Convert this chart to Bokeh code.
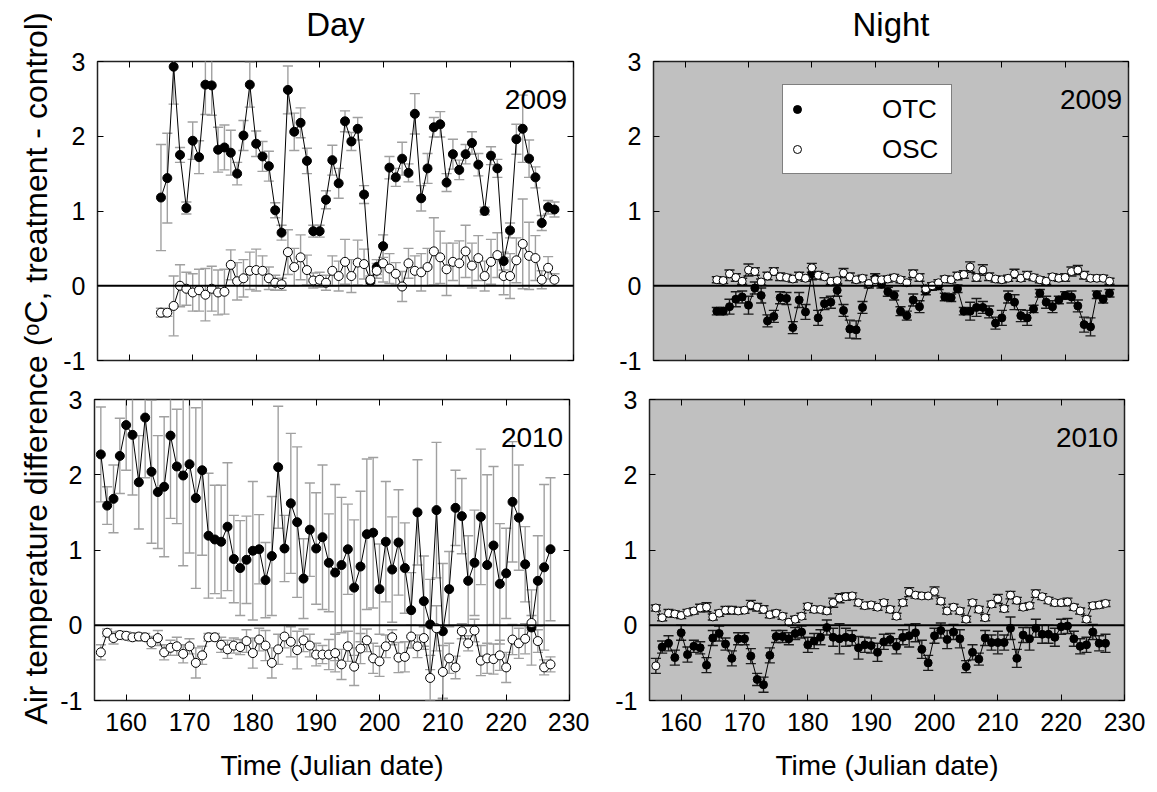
import math
from bokeh.plotting import figure
from bokeh.models import Range1d, FixedTicker, LinearAxis, Label, Legend, LegendItem, Span
from bokeh.layouts import row, column
from bokeh.embed import file_html
from bokeh.resources import INLINE

# ---------------- data ----------------
days_2009 = list(range(165, 228))
days_2010 = list(range(156, 228))

day09_otc = [1.18, 1.44, 2.93, 1.75, 1.04, 1.94, 1.72, 2.69, 2.68, 1.82,
             1.85, 1.78, 1.50, 2.01, 2.69, 1.90, 1.73, 1.60, 1.01, 0.71,
             2.62, 2.06, 2.18, 1.67, 0.73, 0.73, 1.15, 1.68, 1.37, 2.20,
             1.93, 2.10, 1.22, 0.06, 0.25, 0.53, 1.58, 1.45, 1.70, 1.51,
             2.30, 1.17, 1.57, 2.12, 2.16, 1.38, 1.76, 1.55, 1.76, 1.91,
             1.62, 1.00, 1.74, 1.57, 0.33, 0.74, 1.96, 2.10, 1.70, 1.45,
             0.84, 1.05, 1.02]
day09_otc_err = [0.71, 0.60, 0.50, 0.10, 0.08, 0.25, 0.22, 0.40, 0.40, 0.30,
                 0.30, 0.30, 0.15, 0.20, 0.30, 0.17, 0.20, 0.20, 0.10, 0.10,
                 0.32, 0.25, 0.20, 0.17, 0.08, 0.08, 0.12, 0.20, 0.20, 0.14,
                 0.12, 0.15, 0.12, 0.05, 0.10, 0.15, 0.15, 0.12, 0.22, 0.12,
                 0.27, 0.17, 0.20, 0.13, 0.17, 0.12, 0.20, 0.13, 0.13, 0.15,
                 0.15, 0.05, 0.12, 0.12, 0.12, 0.10, 0.20, 0.45, 0.25, 0.14,
                 0.10, 0.09, 0.10]
day09_osc = [-0.36, -0.36, -0.27, 0.00, -0.04, -0.09, -0.06, -0.12, -0.04, -0.09,
             -0.08, 0.28, 0.06, 0.10, 0.20, 0.21, 0.20, 0.10, 0.04, 0.02,
             0.45, 0.25, 0.38, 0.21, 0.07, 0.08, 0.04, 0.20, 0.13, 0.32,
             0.13, 0.31, 0.29, 0.08, 0.20, 0.30, 0.23, 0.16, -0.01, 0.30,
             0.20, 0.18, 0.25, 0.46, 0.38, 0.22, 0.32, 0.30, 0.46, 0.27,
             0.37, 0.13, 0.32, 0.41, 0.13, 0.13, 0.34, 0.56, 0.40, 0.37,
             0.08, 0.24, 0.08]
day09_osc_err = [0.06, 0.05, 0.40, 0.28, 0.22, 0.25, 0.28, 0.35, 0.30, 0.30,
                 0.30, 0.20, 0.25, 0.25, 0.25, 0.28, 0.20, 0.15, 0.10, 0.08,
                 0.30, 0.25, 0.30, 0.20, 0.10, 0.10, 0.10, 0.20, 0.20, 0.30,
                 0.22, 0.30, 0.20, 0.05, 0.10, 0.25, 0.20, 0.15, 0.20, 0.20,
                 0.20, 0.25, 0.25, 0.45, 0.35, 0.35, 0.25, 0.30, 0.35, 0.30,
                 0.30, 0.20, 0.30, 0.30, 0.25, 0.30, 0.30, 0.60, 0.45, 0.30,
                 0.12, 0.15, 0.08]

day10_otc = [2.27, 1.59, 1.68, 2.25, 2.66, 2.53, 1.90, 2.76, 2.04, 1.77,
             1.84, 2.52, 2.11, 1.99, 2.14, 1.69, 2.06, 1.19, 1.14, 1.11,
             1.31, 0.88, 0.76, 0.87, 0.99, 1.01, 0.60, 0.92, 2.10, 1.02,
             1.62, 1.37, 0.62, 1.27, 1.02, 1.17, 0.83, 0.70, 0.80, 1.01,
             0.50, 0.78, 1.21, 1.23, 0.48, 1.11, 0.74, 1.10, 0.76, 0.20,
             1.50, 0.32, 0.01, 1.53, -0.08, 0.48, 1.56, 1.45, 0.59, 0.83,
             1.44, 0.80, 1.06, 0.55, 0.69, 1.64, 1.43, 0.81, -0.03, 0.59,
             0.77, 1.01]
day10_otc_err = [0.63, 0.25, 0.45, 0.50, 0.60, 0.80, 0.62, 0.80, 0.95, 0.75,
                 0.93, 1.10, 0.76, 1.20, 1.18, 1.20, 1.13, 0.83, 0.72, 0.75,
                 0.85, 0.58, 0.63, 0.58, 0.92, 0.46, 0.50, 0.79, 0.81, 0.44,
                 0.93, 1.00, 0.53, 0.62, 0.74, 0.96, 0.65, 1.17, 0.90, 0.60,
                 0.90, 1.00, 1.00, 1.00, 0.60, 0.80, 0.70, 0.70, 0.60, 0.50,
                 0.70, 0.60, 0.60, 0.90, 0.90, 0.50, 0.50, 0.50, 0.60, 0.70,
                 0.90, 1.20, 1.05, 0.80, 0.60, 0.80, 0.70, 0.50, 0.50, 0.60,
                 1.10, 0.95]
day10_osc = [-0.36, -0.10, -0.17, -0.13, -0.14, -0.16, -0.15, -0.16, -0.23, -0.17,
             -0.36, -0.30, -0.28, -0.38, -0.28, -0.50, -0.40, -0.16, -0.16, -0.26,
             -0.32, -0.27, -0.29, -0.21, -0.37, -0.19, -0.27, -0.50, -0.32, -0.15,
             -0.22, -0.33, -0.20, -0.27, -0.39, -0.39, -0.39, -0.37, -0.52, -0.28,
             -0.55, -0.31, -0.20, -0.44, -0.48, -0.28, -0.16, -0.43, -0.42, -0.15,
             -0.28, -0.17, -0.70, -0.04, -0.62, -0.44, -0.56, -0.08, -0.24, -0.07,
             -0.47, -0.44, -0.45, -0.40, -0.56, -0.19, -0.24, -0.18, 0.03, -0.21,
             -0.56, -0.52]
day10_osc_err = [0.10, 0.05, 0.08, 0.05, 0.05, 0.05, 0.05, 0.05, 0.08, 0.10,
                 0.10, 0.10, 0.12, 0.12, 0.10, 0.20, 0.12, 0.05, 0.05, 0.10,
                 0.12, 0.10, 0.10, 0.15, 0.20, 0.15, 0.20, 0.20, 0.20, 0.15,
                 0.20, 0.25, 0.15, 0.15, 0.15, 0.12, 0.20, 0.25, 0.20, 0.20,
                 0.25, 0.20, 0.15, 0.20, 0.20, 0.15, 0.10, 0.20, 0.20, 0.15,
                 0.15, 0.15, 0.30, 0.30, 0.35, 0.20, 0.15, 0.10, 0.10, 0.15,
                 0.20, 0.20, 0.20, 0.20, 0.20, 0.20, 0.20, 0.20, 0.10, 0.15,
                 0.10, 0.10]

night09_otc = [-0.34, -0.34, -0.28, -0.18, -0.15, -0.26, -0.03, -0.13, -0.47, -0.41,
               -0.16, -0.17, -0.56, -0.19, -0.35, 0.16, -0.43, -0.24, -0.22, -0.06,
               -0.33, -0.58, -0.59, -0.29, 0.02, 0.10, 0.02, -0.08, -0.13, -0.34,
               -0.40, -0.19, -0.28, -0.07, -0.01, 0.00, -0.15, -0.16, -0.04, -0.34,
               -0.34, -0.29, -0.29, -0.35, -0.50, -0.43, -0.15, -0.22, -0.40, -0.43,
               -0.31, -0.10, -0.22, -0.28, -0.19, -0.13, -0.15, -0.27, -0.52, -0.55,
               -0.12, -0.18, -0.10]
night09_otc_err = [0.05, 0.05, 0.10, 0.10, 0.08, 0.12, 0.08, 0.10, 0.08, 0.08,
                   0.08, 0.08, 0.08, 0.10, 0.10, 0.08, 0.10, 0.08, 0.08, 0.08,
                   0.08, 0.12, 0.12, 0.08, 0.05, 0.06, 0.05, 0.06, 0.06, 0.06,
                   0.06, 0.08, 0.08, 0.05, 0.05, 0.05, 0.05, 0.05, 0.05, 0.05,
                   0.12, 0.12, 0.08, 0.08, 0.08, 0.10, 0.08, 0.10, 0.08, 0.10,
                   0.05, 0.05, 0.08, 0.08, 0.05, 0.05, 0.08, 0.08, 0.10, 0.12,
                   0.05, 0.05, 0.05]
night09_osc = [0.08, 0.07, 0.16, 0.11, 0.06, 0.21, 0.19, 0.05, 0.13, 0.19,
               0.12, 0.11, 0.09, 0.13, 0.10, 0.24, 0.14, 0.12, 0.06, 0.07,
               0.17, 0.12, 0.08, 0.10, 0.03, 0.08, 0.08, 0.09, 0.11, 0.08,
               0.04, 0.16, 0.11, -0.04, 0.00, 0.04, 0.09, 0.08, 0.13, 0.15,
               0.25, 0.11, 0.21, 0.12, 0.09, 0.08, 0.10, 0.16, 0.10, 0.14,
               0.11, 0.08, 0.06, 0.12, 0.10, 0.11, 0.19, 0.21, 0.14, 0.10,
               0.10, 0.10, 0.06]
night09_osc_err = [0.04, 0.04, 0.05, 0.05, 0.04, 0.08, 0.05, 0.04, 0.05, 0.05,
                   0.05, 0.04, 0.04, 0.05, 0.04, 0.06, 0.05, 0.04, 0.04, 0.04,
                   0.06, 0.05, 0.04, 0.04, 0.04, 0.04, 0.04, 0.04, 0.04, 0.04,
                   0.04, 0.05, 0.05, 0.04, 0.04, 0.04, 0.04, 0.04, 0.05, 0.05,
                   0.07, 0.05, 0.07, 0.05, 0.04, 0.04, 0.04, 0.06, 0.04, 0.05,
                   0.04, 0.04, 0.04, 0.04, 0.04, 0.05, 0.06, 0.06, 0.05, 0.04,
                   0.04, 0.04, 0.04]

night10_otc = [-0.54, -0.29, -0.24, -0.43, -0.10, -0.39, -0.28, -0.30, -0.53, -0.17,
               -0.11, -0.25, -0.44, -0.18, -0.18, -0.41, -0.72, -0.79, -0.40, -0.15,
               -0.15, -0.18, -0.11, -0.09, -0.26, -0.21, -0.16, -0.03, -0.16, -0.18,
               -0.16, -0.17, -0.30, -0.26, -0.27, -0.36, -0.22, -0.19, -0.28, -0.16,
               -0.14, -0.10, -0.32, -0.50, -0.14, -0.07, -0.19, -0.09, -0.18, -0.55,
               -0.36, -0.45, -0.17, -0.23, -0.23, -0.23, -0.04, -0.44, -0.13, -0.18,
               -0.04, -0.12, -0.12, -0.16, -0.02, -0.01, -0.18, -0.28, -0.26, -0.09,
               -0.24, -0.24]
night10_otc_err = [0.10, 0.08, 0.10, 0.10, 0.10, 0.10, 0.08, 0.08, 0.10, 0.10,
                   0.10, 0.08, 0.10, 0.08, 0.08, 0.10, 0.08, 0.10, 0.10, 0.08,
                   0.08, 0.08, 0.08, 0.08, 0.10, 0.10, 0.10, 0.10, 0.12, 0.20,
                   0.12, 0.10, 0.15, 0.10, 0.10, 0.12, 0.10, 0.08, 0.10, 0.10,
                   0.15, 0.12, 0.12, 0.10, 0.10, 0.10, 0.12, 0.10, 0.12, 0.08,
                   0.10, 0.08, 0.10, 0.10, 0.15, 0.10, 0.15, 0.12, 0.10, 0.15,
                   0.12, 0.12, 0.12, 0.12, 0.10, 0.10, 0.10, 0.10, 0.10, 0.10,
                   0.10, 0.12]
night10_osc = [0.23, 0.10, 0.16, 0.15, 0.13, 0.17, 0.19, 0.23, 0.24, 0.11,
               0.16, 0.20, 0.20, 0.19, 0.20, 0.27, 0.24, 0.21, 0.14, 0.16,
               0.12, 0.04, 0.08, 0.12, 0.25, 0.21, 0.21, 0.19, 0.30, 0.36,
               0.38, 0.39, 0.30, 0.26, 0.27, 0.24, 0.30, 0.21, 0.12, 0.30,
               0.44, 0.40, 0.39, 0.39, 0.45, 0.32, 0.19, 0.24, 0.19, 0.08,
               0.30, 0.21, 0.10, 0.28, 0.35, 0.22, 0.40, 0.33, 0.24, 0.26,
               0.42, 0.38, 0.33, 0.30, 0.30, 0.31, 0.24, 0.19, 0.08, 0.26,
               0.27, 0.29]
night10_osc_err = [0.04, 0.04, 0.05, 0.04, 0.04, 0.04, 0.04, 0.05, 0.06, 0.04,
                   0.04, 0.05, 0.05, 0.04, 0.04, 0.06, 0.05, 0.05, 0.04, 0.04,
                   0.04, 0.04, 0.04, 0.04, 0.04, 0.04, 0.04, 0.04, 0.06, 0.06,
                   0.05, 0.04, 0.04, 0.04, 0.04, 0.04, 0.04, 0.04, 0.04, 0.04,
                   0.06, 0.04, 0.04, 0.04, 0.06, 0.04, 0.04, 0.04, 0.04, 0.04,
                   0.04, 0.04, 0.04, 0.04, 0.06, 0.04, 0.05, 0.04, 0.04, 0.04,
                   0.05, 0.04, 0.04, 0.04, 0.04, 0.05, 0.04, 0.04, 0.04, 0.04,
                   0.04, 0.04]

x_ticks = [160, 170, 180, 190, 200, 210, 220, 230]
y_ticks = [-1, 0, 1, 2, 3]
y_tick_labels = {-1: "-1"}
FONT = "Liberation Sans"
Y_LABEL = "Air temperature difference (\u1d52C, treatment - control)"


def tick_only_axis(ticks):
    return LinearAxis(ticker=FixedTicker(ticks=ticks), axis_line_color=None,
                      major_tick_in=6, major_tick_out=0, minor_tick_line_color=None,
                      major_label_text_font_size="0px", major_label_text_color=None,
                      major_label_standoff=0)


def make_panel(days, otc, otc_err, osc, osc_err, *, width, height, bl, br, bt, bb,
               title=None, night=False, year="", xlabels=False, legend=False,
               open_first_otc=False):
    p = figure(width=width, height=height, output_backend="svg", toolbar_location=None,
               x_range=Range1d(155, 230), y_range=Range1d(-1, 3), title=None,
               min_border_left=bl, min_border_right=br, min_border_top=bt,
               min_border_bottom=bb)
    p.background_fill_color = "#c0c0c0" if night else "white"
    p.border_fill_color = "white"
    p.outline_line_color = "#222222"
    p.outline_line_width = 1.5
    p.grid.visible = False

    for ax, ticks in [(p.xaxis[0], x_ticks), (p.yaxis[0], y_ticks)]:
        ax.ticker = FixedTicker(ticks=ticks)
        ax.axis_line_color = None
        ax.major_tick_in = 6
        ax.major_tick_out = 0
        ax.major_tick_line_color = "black"
        ax.minor_tick_line_color = None
        ax.major_label_text_font = FONT
        ax.major_label_text_font_size = "25px"
        ax.major_label_text_color = "black"
        ax.major_label_standoff = 12
    p.yaxis[0].major_label_overrides = y_tick_labels
    if not xlabels:
        p.xaxis.major_label_text_font_size = "0px"
        p.xaxis.major_label_text_color = None
        p.xaxis.major_label_standoff = 0
    else:
        p.xaxis.axis_label = "Time (Julian date)"
        p.xaxis.axis_label_text_font = FONT
        p.xaxis.axis_label_text_font_size = "28px"
        p.xaxis.axis_label_text_font_style = "normal"
        p.xaxis.axis_label_text_color = "black"
        p.xaxis.axis_label_standoff = 16

    top_ax = tick_only_axis(x_ticks)
    if title:
        # column title ("Day" / "Night") carried by the top axis
        top_ax.axis_label = title
        top_ax.axis_label_text_font = FONT
        top_ax.axis_label_text_font_size = "33px"
        top_ax.axis_label_text_font_style = "normal"
        top_ax.axis_label_text_color = "black"
        top_ax.axis_label_standoff = 19
    p.add_layout(top_ax, "above")
    p.add_layout(tick_only_axis(y_ticks), "right")

    p.add_layout(Span(location=0, dimension="width", line_color="black", line_width=2))

    bar_color = "#1a1a1a" if night else "#a0a0a0"
    cap = 0.8
    msize = 8 if night else 9
    for ys, es in [(otc, otc_err), (osc, osc_err)]:
        lo = [y - e for y, e in zip(ys, es)]
        hi = [y + e for y, e in zip(ys, es)]
        p.segment(x0=days, y0=lo, x1=days, y1=hi, line_color=bar_color, line_width=1.4)
        p.segment(x0=[d - cap for d in days], y0=hi, x1=[d + cap for d in days], y1=hi,
                  line_color=bar_color, line_width=1.4)
        p.segment(x0=[d - cap for d in days], y0=lo, x1=[d + cap for d in days], y1=lo,
                  line_color=bar_color, line_width=1.4)

    p.line(days, osc, line_color="black", line_width=1)
    p.line(days, otc, line_color="black", line_width=1)
    otc_fill = ["white" if (open_first_otc and i == 0) else "black" for i in range(len(days))]
    r_otc = p.scatter(x=days, y=otc, size=msize, fill_color=otc_fill, line_color="black",
                      line_width=1)
    r_osc = p.scatter(days, osc, size=msize, fill_color="white", line_color="black",
                      line_width=1)

    p.add_layout(Label(x=229, y=2.49, text=year, text_align="right",
                       text_baseline="alphabetic", text_font=FONT,
                       text_font_size="28px", text_color="black"))

    if legend:
        lg = Legend(items=[LegendItem(label="OTC", renderers=[r_otc]),
                           LegendItem(label="OSC", renderers=[r_osc])],
                    location=(129, 186), orientation="vertical",
                    label_text_font=FONT, label_text_font_size="26px",
                    label_text_color="black",
                    glyph_width=20, glyph_height=40, label_height=40,
                    label_width=65, label_standoff=75, padding=4, spacing=0,
                    margin=0, border_line_color="black", border_line_width=1,
                    background_fill_color="white", background_fill_alpha=1.0)
        p.add_layout(lg)
    return p


LW = 52          # width of the strip holding the shared y-axis label
W = 1157 - LW

p1 = make_panel(days_2009, day09_otc, day09_otc_err, day09_osc, day09_osc_err,
                width=541, height=379, bl=45, br=20, bt=61, bb=19,
                title="Day", year="2009")
p2 = make_panel(days_2009, night09_otc, night09_otc_err, night09_osc, night09_osc_err,
                width=W - 541, height=379, bl=60, br=29, bt=61, bb=19,
                title="Night", night=True, year="2009", legend=True)
p3 = make_panel(days_2010, day10_otc, day10_otc_err, day10_osc, day10_osc_err,
                width=537, height=413, bl=42, br=20, bt=20, bb=92,
                year="2010", xlabels=True)
p4 = make_panel(days_2010, night10_otc, night10_otc_err, night10_osc, night10_osc_err,
                width=W - 537, height=413, bl=60, br=33, bt=20, bb=92,
                night=True, year="2010", xlabels=True, open_first_otc=True)

# shared y-axis label strip
lab = figure(width=LW, height=792, output_backend="svg", toolbar_location=None,
             x_range=Range1d(0, 1), y_range=Range1d(0, 1), min_border=0, title=None,
             x_axis_location=None, y_axis_location=None)
lab.outline_line_color = None
lab.grid.visible = False
lab.add_layout(Label(x=35 / LW, y=1 - 368 / 792, text=Y_LABEL, angle=math.pi / 2,
                     text_align="center", text_baseline="middle", text_font=FONT,
                     text_font_size="32px", text_color="black"))

layout = row(lab, column(row(p1, p2), row(p3, p4)))
open("out.html", "w").write(file_html(layout, INLINE))
